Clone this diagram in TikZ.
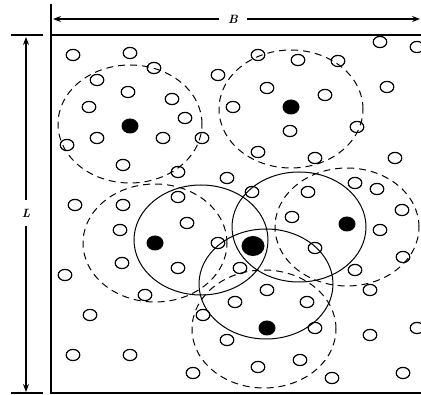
\documentclass[tikz,border=0pt]{standalone}
\usetikzlibrary{arrows.meta}
\begin{document}
\begin{tikzpicture}[x=1pt,y=-1pt,
  small/.style={line width=1.2pt},
  dot/.style={fill=black},
  bigdash/.style={line width=1pt,dash pattern=on 7pt off 5pt},
  bigsolid/.style={line width=1pt},
  frame/.style={line width=1.5pt},
  dim/.style={line width=1.1pt,-{Stealth[length=8pt,width=6pt]}},
  lab/.style={font=\large\bfseries\itshape,inner sep=1pt}]
\useasboundingbox (0,0) rectangle (421,395);
% frame and extension lines
\coordinate (tl) at (51,4);
\coordinate (bl) at (51,393);
\coordinate (tr) at (421,35);
\coordinate (br) at (421,393);
\draw[frame] (tl) -- (bl) -- (br);
\draw[frame] (51,35) -- (tr);
\coordinate (et1) at (11,35); \coordinate (et2) at (43,35);
\coordinate (eb1) at (11,393); \coordinate (eb2) at (43,393);
\draw[frame] (et1) -- (et2);
\draw[frame] (eb1) -- (eb2);
% dimension B
\node[lab] (B) at (233,19) {B};
\coordinate (bL) at (53,19); \coordinate (bR) at (420,19);
\draw[dim] (B.west) ++(-8,0) -- (bL);
\draw[dim] (B.east) ++(8,0) -- (bR);
% dimension L
\node[lab] (L) at (26,213) {L};
\coordinate (lT) at (26,37); \coordinate (lB) at (26,392);
\draw[dim] (L.north) ++(0,-8) -- (lT);
\draw[dim] (L.south) ++(0,8) -- (lB);
% large dashed circles
\foreach \p in {(130,124),(291,109),(155,243),(347,227),(264,329)}
  \draw[bigdash] \p ellipse [x radius=72pt, y radius=59pt];
% large solid circles
\foreach \p in {(201,240),(299,227),(266,284)}
  \draw[bigsolid] \p ellipse [x radius=67pt, y radius=55pt];
% small open circles
\foreach \p in {(73,55),(130,53),(154,68),(97,80),(128,92),(89,107),(172,99),(185,118),
 (380,42),(417,47),(258,55),(298,60),(338,61),(218,75),(267,88),(325,95),(387,87),(233,107),(357,127),(290,131),
 (97,138),(163,138),(202,138),
 (67,145),(123,165),(178,172),(258,152),(315,158),(395,158),(227,178),
 (75,205),(123,205),(178,197),(252,192),(308,192),(355,183),(377,189),(402,210),
 (187,223),(292,217),(380,230),(120,230),(218,243),(315,248),(403,257),
 (122,263),(178,268),(240,268),(65,275),(355,270),
 (145,295),(267,290),(370,290),(235,302),(307,302),(90,315),(203,315),
 (315,328),(370,335),(417,328),(227,340),(73,355),(130,355),(258,367),(300,360),(193,373),(332,378),(403,373)}
  \draw[small] \p ellipse [x radius=6.8pt, y radius=5.6pt];
% filled dots
\foreach \p in {(130,126),(291,107),(155,243),(347,224),(267,328)}
  \fill[dot] \p ellipse [x radius=8.5pt, y radius=7.5pt];
\fill[dot] (253,246) ellipse [x radius=11.5pt, y radius=10pt];
\end{tikzpicture}
\end{document}
